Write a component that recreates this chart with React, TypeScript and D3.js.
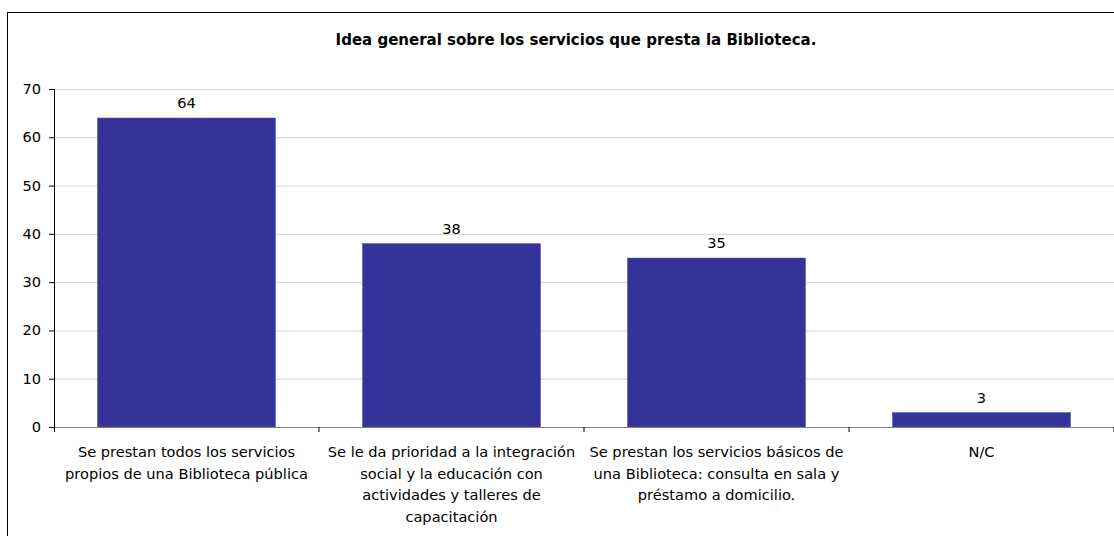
import React from "react";
import * as d3 from "d3";

const title = "Idea general sobre los servicios que presta la Biblioteca.";
const categories = [
  ["Se prestan todos los servicios", "propios de una Biblioteca pública"],
  ["Se le da prioridad a la integración", "social y la educación con", "actividades y talleres de", "capacitación"],
  ["Se prestan los servicios básicos de", "una Biblioteca: consulta en sala y", "préstamo a domicilio."],
  ["N/C"],
];
const values = [64, 38, 35, 3];
const yTicks = [0, 10, 20, 30, 40, 50, 60, 70];

const W = 1114;
const H = 536;
const FONT = "Tahoma, 'DejaVu Sans', Verdana, sans-serif";

export default function App() {
  const left = 54;
  const right = 1114;
  const top = 89;
  const bottom = 427;
  const x = d3.scaleBand<number>().domain(values.map((_, i) => i)).range([left, right]).paddingInner(0.328).paddingOuter(0.164);
  const band = (right - left) / values.length;
  const y = d3.scaleLinear().domain([0, 70]).range([bottom, top]);
  return (
    <svg width={W} height={H} style={{ position: "absolute", left: 0, top: 0, background: "#fff" }}>
      <rect x={7.5} y={12.5} width={1200} height={600} fill="#fff" stroke="#000" strokeWidth={1} />
      <text x={576} y={45} textAnchor="middle" fontFamily={FONT} fontWeight="bold" fontSize={15} fill="#000">
        {title}
      </text>
      {yTicks.map((t) => (
        <g key={t}>
          {t > 0 && <line x1={left} x2={1114} y1={y(t) + 0.5} y2={y(t) + 0.5} stroke="#d4d4d4" />}
          <line x1={left - 5} x2={left} y1={y(t) + 0.5} y2={y(t) + 0.5} stroke="#000" />
          <text x={41} y={y(t) + 5} textAnchor="end" fontFamily={FONT} fontSize={14.6} fill="#000">
            {t}
          </text>
        </g>
      ))}
      {values.map((v, i) => (
        <g key={i}>
          <rect x={x(i)} y={y(v)} width={x.bandwidth()} height={bottom - y(v)} fill="#333399" stroke="#5555b0" strokeWidth={0.5} />
          <text x={(x(i) as number) + x.bandwidth() / 2} y={y(v) - 10} textAnchor="middle" fontFamily={FONT} fontSize={14.6} fill="#000">
            {v}
          </text>
          {categories[i].map((ln, j) => (
            <text key={j} x={left + band * (i + 0.5)} y={457 + j * 21.5} textAnchor="middle" fontFamily={FONT} fontSize={14.6} fill="#000">
              {ln}
            </text>
          ))}
        </g>
      ))}
      <line x1={left} x2={1114} y1={bottom + 0.5} y2={bottom + 0.5} stroke="#808080" />
      {values.map((_, i) => (
        <line key={i} x1={left + band * (i + 1)} x2={left + band * (i + 1)} y1={bottom} y2={bottom + 5} stroke="#000" />
      ))}
      <line x1={left + 0.5} x2={left + 0.5} y1={top} y2={bottom + 5} stroke="#000" />
    </svg>
  );
}
